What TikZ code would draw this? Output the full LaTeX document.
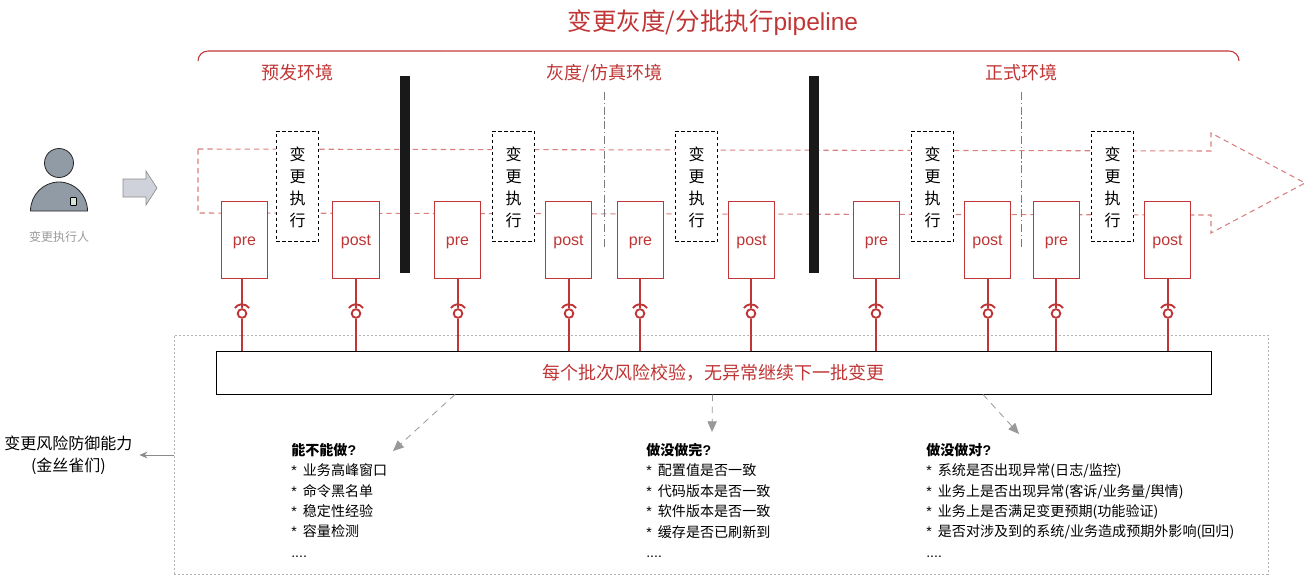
\documentclass[tikz,border=0pt]{standalone}
\usepackage{fontspec}
\setmainfont{Liberation Sans}
\newfontfamily\cjk{Noto Sans CJK SC}
\usetikzlibrary{arrows.meta}
\definecolor{rd}{HTML}{C03535}
\definecolor{pd}{HTML}{D98080}
\definecolor{gy}{HTML}{999999}
\definecolor{slatey}{HTML}{919BA6}
\definecolor{arrowfill}{HTML}{D0D2DB}
\definecolor{badge}{HTML}{D5E3DC}
\newcommand{\fpx}[1]{\fontsize{\dimexpr#1pt*3/4\relax}{\dimexpr#1pt*9/10\relax}\selectfont}
\newcommand{\stm}{{\fontspec{Liberation Sans}*}~\hspace{2.25pt}}
\tikzset{
 x=0.75pt,y=-0.75pt,
 prebox/.style={draw=rd,line width=0.9pt,fill=white,minimum width=35pt,minimum height=57.75pt,inner sep=0pt,text=rd,font=\fpx{16}},
 execbox/.style={draw=black,line width=0.75pt,dash pattern=on 2.5pt off 2pt,fill=white,minimum width=32pt,minimum height=82.5pt,inner sep=0pt,align=center,font=\cjk\fontsize{12pt}{16.5pt}\selectfont},
 barbox/.style={fill=black!90,draw=none,minimum width=7.5pt,minimum height=147.75pt,inner sep=0pt},
 lab/.style={text=rd,font=\cjk\fpx{18},inner sep=0pt},
 stem/.style={draw=rd,line width=1.7pt},
 eye/.style={circle,draw=rd,line width=1.4pt,fill=white,minimum size=6.5pt,inner sep=0pt},
 pipe/.style={draw=pd,line width=0.8pt,dash pattern=on 4pt off 3pt},
 tickline/.style={draw=gy!80!black,line width=0.6pt,dash pattern=on 6pt off 2pt on 1pt off 2pt},
 hint/.style={draw=gy,line width=0.6pt,dash pattern=on 5pt off 4pt,-{Triangle[length=8pt,width=7pt]}},
 listtext/.style={anchor=north west,inner sep=0pt,align=left,font=\cjk\fontsize{10.55pt}{15.3pt}\selectfont},
}
\begin{document}
\begin{tikzpicture}
\useasboundingbox (0,0) rectangle (1306,575);
% pipeline arrow
\coordinate (p1) at (198,149);\coordinate (p2) at (1211,151);\coordinate (p3) at (1211,133);\coordinate (tip) at (1305,183);
\coordinate (p5) at (1211,233);\coordinate (p6) at (1211,215);\coordinate (p7) at (198,213);
\draw[pipe] (p1)--(p2)--(p3)--(tip)--(p5)--(p6)--(p7)--cycle;
% vertical
\coordinate (t1) at (604,92);\coordinate (t2) at (604,248);\coordinate (t3) at (1021,92);\coordinate (t4) at (1021,248);
\draw[tickline] (t1)--(t2);\draw[tickline] (t3)--(t4);
% title & brace
\node[inner sep=0pt,text=rd] (title) at (713,23) {\fpx{24.5}{\cjk 变更灰度/分批执行}pipeline};
\coordinate (b1) at (198,61);\coordinate (b2) at (1239,61);
\draw[pd,line width=0.8pt] (440,51)--(1030,51);
\draw[rd,line width=0.8pt] (b1) arc[start angle=180,end angle=270,radius=10] -- (440,51);
\draw[rd,line width=0.8pt] (1030,51) -- (1229,51) arc[start angle=270,end angle=360,radius=10];
\node[lab] (l1) at (297,73) {预发环境};
\node[lab] (l2) at (604.5,73) {灰度/仿真环境};
\node[lab] (l3) at (1021.5,73) {正式环境};
% bars
\node[barbox] (bar1) at (405,174.5) {};
\node[barbox] (bar2) at (814,174.5) {};
% exec
\foreach \n/\x in {e1/297.5,e2/513.5,e3/696.5,e4/932.5,e5/1112.5}
 \node[execbox] (\n) at (\x,186.3) {\raisebox{-5.25pt}[0pt][0pt]{\begin{tabular}{@{}c@{}}变\\更\\执\\行\end{tabular}}};
% outer dotted
\node[draw=black!30,dash pattern=on 1.5pt off 1.5pt,line width=0.6pt,minimum width=820.5pt,minimum height=179.25pt,inner sep=0pt] (guard) at (721,454.5) {};
% main box
\node[draw=black,line width=0.7pt,fill=white,minimum width=746.25pt,minimum height=32.25pt,inner sep=0pt,text=rd,font=\cjk\fpx{18}] (main) at (713.5,372.5) {每个批次风险校验，无异常继续下一批变更};
% pre/post + connectors
\foreach \n/\t/\x/\lx in {a/pre/244.5/242,b/post/356/356,c/pre/457.5/458,d/post/568.5/569,f/pre/640.5/640,g/post/751.5/751,h/pre/876.5/876,i/post/987.5/988,j/pre/1056.5/1056,k/post/1167.5/1168}{
 \node[prebox] (\n) at (\x,239.8) {\raisebox{-4.1pt}[0pt][0pt]{\t}};
 \node[eye] (\n c) at (\lx,313.5) {};
 \draw[stem] (\lx,278.5) -- (\n c.north);
 \draw[stem] (\n c.south) -- (\lx,350.5);
 \draw[rd,line width=1.4pt] (\lx+7.1,308) arc[start angle=-35,end angle=-145,radius=8.7];
}
% person
\node[circle,draw=black!85,fill=slatey,line width=0.6pt,minimum size=21.75pt,inner sep=0pt] (head) at (59,163) {};
\draw[draw=black!85,fill=slatey,line width=0.6pt] (30.5,211) arc[start angle=180,end angle=360,x radius=28.5,y radius=29] -- cycle;
\node[draw=black,fill=badge,rounded corners=0.5pt,line width=0.5pt,minimum width=4.5pt,minimum height=6pt,inner sep=0pt] (badgebox) at (73.5,201.5) {};
\node[text=gy,inner sep=0pt,font=\cjk\fpx{12}] (who) at (59,237) {变更执行人};
\draw[draw=black!45,fill=arrowfill,line width=0.5pt] (123,179)--(146,179)--(146,171)--(157,188)--(146,205)--(146,197)--(123,197)--cycle;
% left label
\node[inner sep=0pt,align=center,font=\cjk\fontsize{12pt}{16.5pt}\selectfont] (cap) at (68.5,455) {变更风险防御能力\\(金丝雀们)};
\draw[draw=gy!90!black,line width=0.7pt,shorten >=5pt,-{Stealth[length=6pt,width=5pt]}] (guard.west |- cap) -- (cap.east |- cap);
% hints
\coordinate (h1) at (393,451);\coordinate (h2) at (712,432);\coordinate (h3) at (1019,434);
\draw[hint] (455,394.5) -- (h1);
\draw[hint] (712.5,394.5) -- (h2);
\draw[hint] (983,394.5) -- (h3);
% lists
\node[listtext] (lista) at (291,443) {{\bfseries 能不能做\textbf{\fontspec{Liberation Sans}?}}\\
\stm 业务高峰窗口\\ \stm 命令黑名单\\ \stm 稳定性经验\\ \stm 容量检测\\ {\fontspec{Liberation Sans}....}};
\node[listtext] (listb) at (646,443) {{\bfseries 做没做完\textbf{\fontspec{Liberation Sans}?}}\\
\stm 配置值是否一致\\ \stm 代码版本是否一致\\ \stm 软件版本是否一致\\ \stm 缓存是否已刷新到\\ {\fontspec{Liberation Sans}....}};
\node[listtext] (listc) at (926,443) {{\bfseries 做没做对\textbf{\fontspec{Liberation Sans}?}}\\
\stm 系统是否出现异常(日志/监控)\\ \stm 业务上是否出现异常(客诉/业务量/舆情)\\ \stm 业务上是否满足变更预期(功能验证)\\ \stm 是否对涉及到的系统/业务造成预期外影响(回归)\\ {\fontspec{Liberation Sans}....}};
\end{tikzpicture}
\end{document}
